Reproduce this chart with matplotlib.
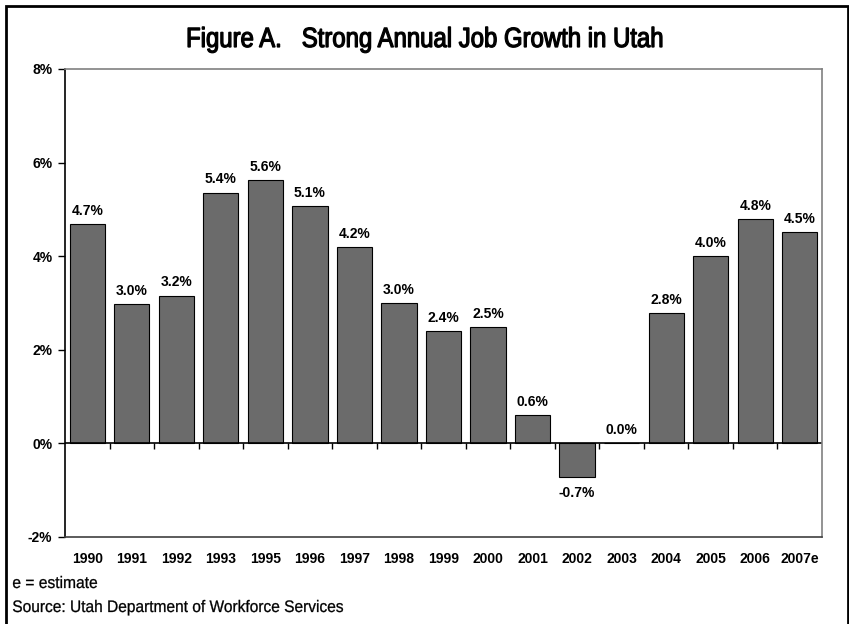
import numpy as np
import matplotlib.pyplot as plt
from matplotlib.font_manager import FontProperties
from matplotlib.lines import Line2D
from matplotlib.patches import PathPatch
from matplotlib.textpath import TextPath
from matplotlib.transforms import Affine2D, IdentityTransform

# annual job growth, percent
years = ["1990", "1991", "1992", "1993", "1995", "1996", "1997", "1998", "1999",
         "2000", "2001", "2002", "2003", "2004", "2005", "2006", "2007e"]
growth = [4.68, 2.97, 3.16, 5.36, 5.62, 5.08, 4.19, 2.99, 2.40,
          2.48, 0.60, -0.71, 0.00, 2.78, 4.00, 4.79, 4.51]
yticks = [-2, 0, 2, 4, 6, 8]

plt.rcParams["font.family"] = ["Liberation Sans", "DejaVu Sans"]

W, H = 849, 624
fig = plt.figure(figsize=(W / 100, H / 100), dpi=100)
ax = fig.add_axes([65 / W, 87 / H, 757 / W, 468 / H])


def narrow_text(x, y, s, size, width, weight="normal", ha="left", lw=0.0):
    # draw text squeezed horizontally to look like Arial Narrow (x, y in pixels from top-left)
    tp = TextPath((0, 0), s, size=size * 100 / 72,
                  prop=FontProperties(family="Liberation Sans", weight=weight))
    ext = tp.get_extents()
    sx = width / ext.width
    x0 = x - width / 2 if ha == "center" else x
    tr = Affine2D().translate(-ext.x0, 0).scale(sx, 1).translate(x0, H - y)
    fig.patches.append(PathPatch(tr.transform_path(tp), transform=IdentityTransform(),
                                 facecolor="black", edgecolor="black", linewidth=lw))


x = np.arange(len(years))
ax.bar(x, growth, width=0.79, color="#6b6b6b", edgecolor="black", linewidth=0.8)

# value labels
for xi, v in zip(x, growth):
    if v < 0:
        ax.text(xi, v - 0.2, f"{v:.1f}%", ha="center", va="top", fontsize=10, fontweight="bold")
    else:
        ax.text(xi, v + 0.13, f"{v:.1f}%", ha="center", va="bottom", fontsize=10, fontweight="bold")

ax.set_xlim(-0.5, len(years) - 0.5)
ax.set_ylim(-2, 8)
ax.set_yticks(yticks)
ax.set_yticklabels([f"{t}%" for t in yticks], fontsize=10, fontweight="bold")
ax.tick_params(axis="y", length=5, width=1, pad=4)

ax.set_xticks(x)
ax.set_xticklabels(years, fontsize=10, fontweight="bold")
ax.tick_params(axis="x", length=0, pad=11)

# zero line with small ticks between categories
ax.axhline(0, color="black", linewidth=1.2)
ax.vlines(x[:-1] + 0.5, -0.13, 0, color="black", linewidth=1)

for side in ["top", "right"]:
    ax.spines[side].set_color("#808080")
    ax.spines[side].set_linewidth(1.2)
ax.spines["bottom"].set_color("#404040")
ax.spines["bottom"].set_linewidth(1.2)
ax.spines["left"].set_color("black")
ax.spines["left"].set_linewidth(1.2)

# title and notes in a narrow face
narrow_text(425, 47, "Figure A.   Strong Annual Job Growth in Utah", 20, 474, ha="center", lw=0.9)
narrow_text(13, 588, "e = estimate", 12, 84, lw=0.2)
narrow_text(13, 612, "Source: Utah Department of Workforce Services", 12, 330, lw=0.2)

# frame on left, top and right only
fx0, fx1, fy1 = 6 / W, 847.5 / W, 1 - 6 / H
fig.add_artist(Line2D([fx0, fx0, fx1, fx1], [0, fy1, fy1, 0], transform=fig.transFigure,
                      color="black", linewidth=2, solid_joinstyle="miter"))

fig.savefig("out.png", dpi=100)
